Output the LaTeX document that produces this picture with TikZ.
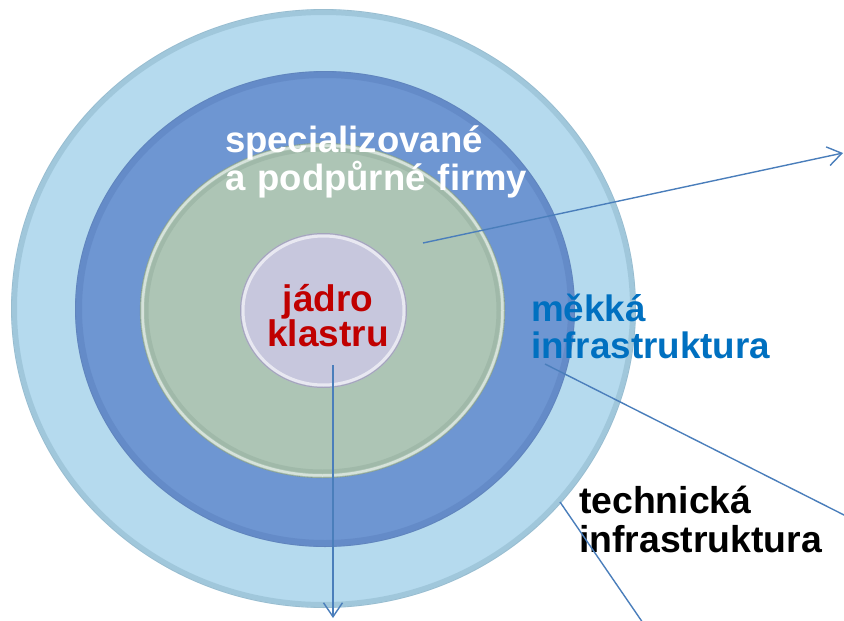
\documentclass[tikz,border=0pt]{standalone}
\usepackage{fontspec}
\setmainfont{Liberation Sans}
\usetikzlibrary{shapes.geometric,arrows.meta}
\definecolor{ringA}{HTML}{B5DAEE}
\definecolor{rimA}{HTML}{8DB6CA}
\definecolor{ringB}{HTML}{6E96D2}
\definecolor{rimB}{HTML}{5A7EBC}
\definecolor{ringC}{HTML}{ADC5B5}
\definecolor{rimC}{HTML}{8EA898}
\definecolor{ringD}{HTML}{C7C7DD}
\definecolor{rimD}{HTML}{9C9CB4}
\definecolor{corered}{HTML}{C00000}
\definecolor{softblue}{HTML}{0070C0}
\definecolor{arrowblue}{HTML}{4A7EBB}
\begin{document}
\begin{tikzpicture}[x=1pt,y=-1pt,
  ring/.style={ellipse, draw=none, inner sep=0pt, outer sep=0pt},
  lbl/.style={inner sep=0pt, outer sep=0pt, font=\bfseries\fontsize{36.5}{38}\selectfont, text width=330pt, align=left},
  conn/.style={draw=arrowblue, line width=1.4pt},
  tip/.style={-{Straight Barb[length=14pt,width=19pt,line width=1.4pt]}}
]
\useasboundingbox (0,0) rectangle (844,621);

% outer ring: technical infrastructure
\node[ring, fill=ringA, minimum width=625pt, minimum height=599pt] (outer) at (323.5,308.5) {};
\draw[rimA, line width=5pt, opacity=0.5] (outer.center) ellipse [x radius=309pt, y radius=296pt];
\draw[rimA!80!black, line width=0.8pt, opacity=0.4] (outer.center) ellipse [x radius=312pt, y radius=299pt];

% blue ring: soft infrastructure
\node[ring, fill=ringB, minimum width=500pt, minimum height=476pt] (soft) at (325,309) {};
\draw[rimB, line width=6pt, opacity=0.45] (soft.center) ellipse [x radius=246pt, y radius=234pt];
\draw[rimB!80!black, line width=0.8pt, opacity=0.35] (soft.center) ellipse [x radius=249.5pt, y radius=237.5pt];

% green ring: specialised firms
\node[ring, fill=ringC, minimum width=365pt, minimum height=335pt] (firms) at (322.5,310.5) {};
\draw[white, line width=2.5pt, opacity=0.5] (firms.center) ellipse [x radius=180pt, y radius=165pt];
\draw[rimC, line width=4pt, opacity=0.4] (firms.center) ellipse [x radius=176pt, y radius=161pt];
\draw[rimC!70!black, line width=0.6pt, opacity=0.45] (firms.center) ellipse [x radius=182.3pt, y radius=167.3pt];

% core
\node[ring, fill=ringD, minimum width=167pt, minimum height=155pt] (core) at (323.5,310.5) {};
\draw[white, line width=3pt, opacity=0.6] (core.center) ellipse [x radius=80.5pt, y radius=74.5pt];
\draw[rimD, line width=1pt, opacity=0.8] (core.center) ellipse [x radius=83pt, y radius=77pt];

% labels
\node[lbl, text=white, anchor=base west] (spec) at (225,152) {specializované\\a podpůrné firmy};
\node[lbl, text=corered, anchor=base, text width=200pt, align=center,
      font=\bfseries\fontsize{37}{33}\selectfont] (corelbl) at (328,311) {jádro\\klastru};
\node[lbl, text=softblue, anchor=base west, font=\bfseries\fontsize{36.8}{37}\selectfont] (softlbl) at (531,321) {měkká\\infrastruktura};
\node[lbl, text=black, anchor=base west, font=\bfseries\fontsize{37.4}{39}\selectfont] (techlbl) at (579,513) {technická\\infrastruktura};

% connectors
\coordinate (s1) at (423,243);
\coordinate (e1) at (843,153);
\coordinate (s2) at (333,365);
\coordinate (e2) at (333,618);
\coordinate (s3) at (545,364);
\coordinate (e3) at (846,516);
\coordinate (s4) at (560,502);
\coordinate (e4) at (643,623);
\draw[conn, tip] (s1) -- (e1);
\draw[conn, tip] (s2) -- (e2);
\draw[conn] (s3) -- (e3);
\draw[conn] (s4) -- (e4);
\end{tikzpicture}
\end{document}
